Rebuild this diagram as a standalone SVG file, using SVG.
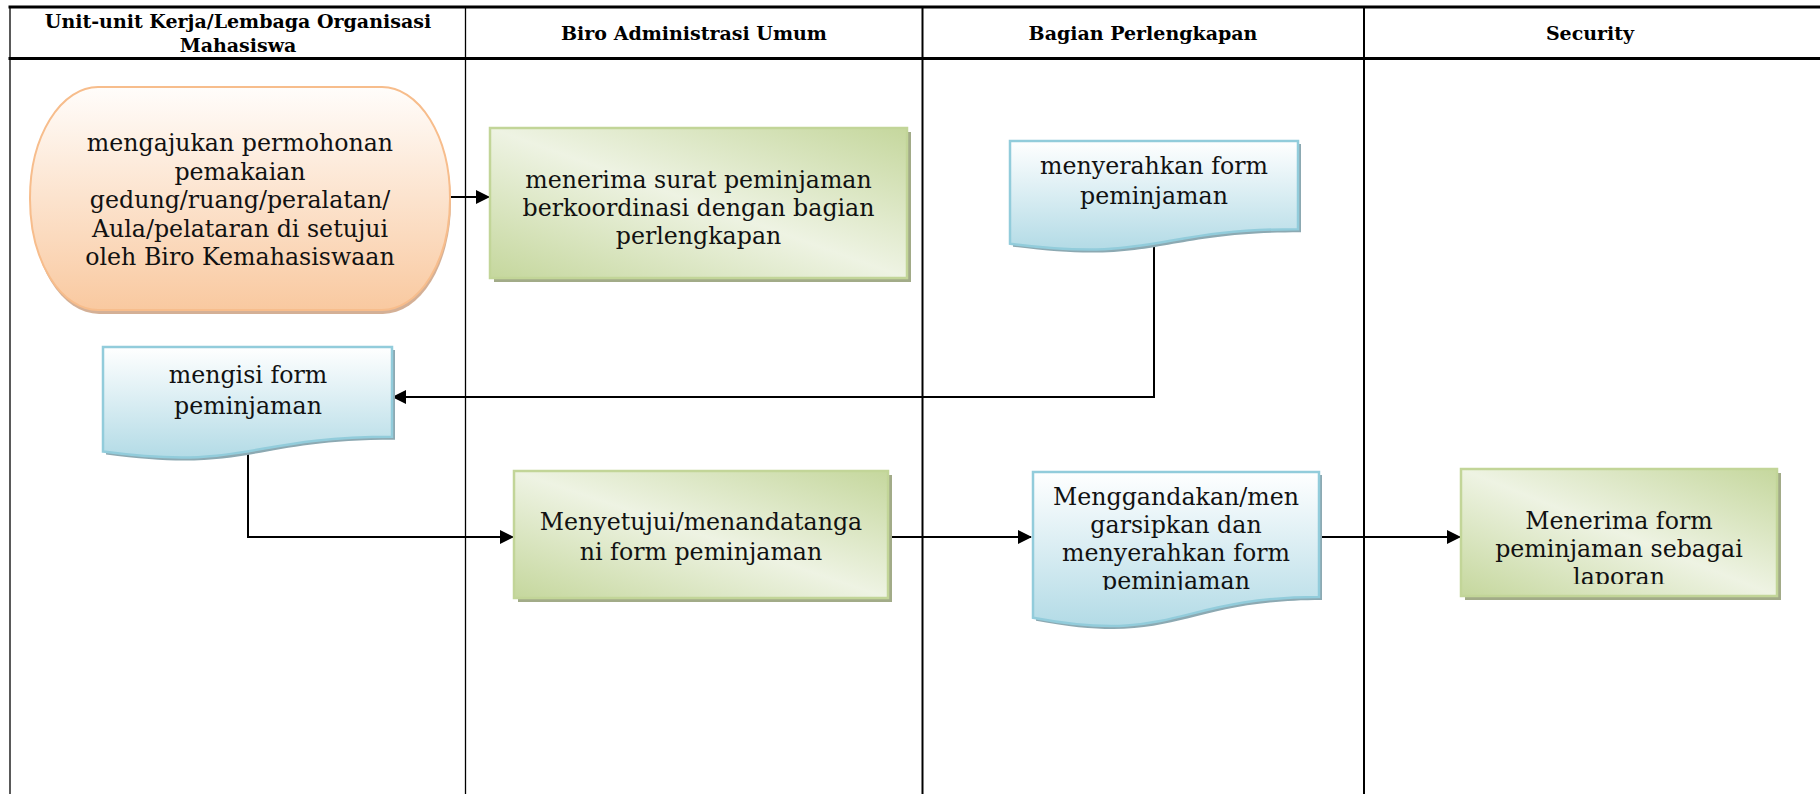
<svg xmlns="http://www.w3.org/2000/svg" width="1820" height="794" viewBox="0 0 1820 794">
  <defs>
    <linearGradient id="gOrange" x1="0" y1="0" x2="0" y2="1">
      <stop offset="0" stop-color="#fffdfb"/>
      <stop offset="1" stop-color="#f9c9a0"/>
    </linearGradient>
    <linearGradient id="gBlue" x1="0" y1="0" x2="0" y2="1">
      <stop offset="0" stop-color="#ffffff"/>
      <stop offset="1" stop-color="#b3dbe6"/>
    </linearGradient>
    <linearGradient id="gGreen" x1="0" y1="1" x2="1" y2="0">
      <stop offset="0" stop-color="#c5d79d"/>
      <stop offset="0.5" stop-color="#eef3e3"/>
      <stop offset="1" stop-color="#c5d79d"/>
    </linearGradient>
    <marker id="arrow" viewBox="0 0 14 14" refX="13" refY="7" markerWidth="14" markerHeight="14" markerUnits="userSpaceOnUse" orient="auto">
      <path d="M0,0 L14,7 L0,14 Z" fill="#000"/>
    </marker>
    <clipPath id="clipDoc6"><rect x="1033" y="472" width="286" height="118"/></clipPath>
    <clipPath id="clipBoxC"><rect x="1461" y="469" width="316" height="115"/></clipPath>
  </defs>
  <style>
    .hdr { font-family: "DejaVu Serif", "Liberation Serif", serif; font-weight: bold; font-size: 19px; fill: #000; text-anchor: middle; }
    .lbl { font-family: "DejaVu Serif", "Liberation Serif", serif; font-size: 23.7px; fill: #111; text-anchor: middle; }
    .thin { stroke: #000; stroke-width: 1.3; fill: none; }
    .thick { stroke: #000; stroke-width: 2; fill: none; }
    .rule { stroke: #000; stroke-width: 3; fill: none; }
    .conn { stroke: #000; stroke-width: 2; fill: none; marker-end: url(#arrow); }
    .term { fill: url(#gOrange); stroke: #f7bd8c; stroke-width: 2; }
    .termShadow { fill: #c99c7c; opacity: 0.8; }
    .proc { fill: url(#gGreen); stroke: #c2d598; stroke-width: 2.5; }
    .procShadow { fill: #a2ab88; }
    .doc { fill: url(#gBlue); stroke: #92ccdb; stroke-width: 2.5; }
    .docShadow { fill: #8ca9b2; }
  </style>

  <rect x="0" y="0" width="1820" height="794" fill="#ffffff"/>

  <!-- swimlane table -->
  <g id="lanes">
    <line class="rule" x1="8.5" y1="7" x2="1820" y2="7"/>
    <line class="rule" x1="8.5" y1="58.5" x2="1820" y2="58.5"/>
    <line class="thin" x1="10" y1="6" x2="10" y2="794"/>
    <line class="thin" x1="465.5" y1="6" x2="465.5" y2="794"/>
    <line class="thick" x1="922.5" y1="6" x2="922.5" y2="794"/>
    <line class="thick" x1="1364" y1="6" x2="1364" y2="794"/>
    <text class="hdr" x="238" y="28">Unit-unit Kerja/Lembaga Organisasi</text>
    <text class="hdr" x="238" y="52">Mahasiswa</text>
    <text class="hdr" x="694" y="40">Biro Administrasi Umum</text>
    <text class="hdr" x="1143" y="40">Bagian Perlengkapan</text>
    <text class="hdr" x="1590" y="40">Security</text>
  </g>

  <!-- connectors -->
  <g id="connectors">
    <path class="conn" d="M450,197 H489"/>
    <path class="conn" d="M1154,244 V397 H393"/>
    <path class="conn" d="M248,452 V537 H513"/>
    <path class="conn" d="M888,537 H1031"/>
    <path class="conn" d="M1320,537 H1460"/>
  </g>

  <!-- start: request submitted -->
  <g id="n-mengajukan">
    <rect class="termShadow" x="31" y="91" width="420" height="223" rx="68" ry="111"/>
    <rect class="term" x="30" y="87" width="420" height="223" rx="68" ry="111"/>
    <text class="lbl" x="240" y="151">mengajukan permohonan</text>
    <text class="lbl" x="240" y="179.5">pemakaian</text>
    <text class="lbl" x="240" y="208">gedung/ruang/peralatan/</text>
    <text class="lbl" x="240" y="236.5">Aula/pelataran di setujui</text>
    <text class="lbl" x="240" y="265">oleh Biro Kemahasiswaan</text>
  </g>

  <g id="n-menerima-surat">
    <rect class="procShadow" x="494" y="132" width="417" height="150"/>
    <rect class="proc" x="490" y="128" width="417" height="150"/>
    <text class="lbl" x="698.5" y="188">menerima surat peminjaman</text>
    <text class="lbl" x="698.5" y="216">berkoordinasi dengan bagian</text>
    <text class="lbl" x="698.5" y="244">perlengkapan</text>
  </g>

  <g id="n-menyerahkan-form">
    <path class="docShadow" transform="translate(3,3)" d="M1010,141 H1298 V229.2 C1154,229.2 1154,262.8 1010,243.7 Z"/>
    <path class="doc" d="M1010,141 H1298 V229.2 C1154,229.2 1154,262.8 1010,243.7 Z"/>
    <text class="lbl" x="1154" y="174">menyerahkan form</text>
    <text class="lbl" x="1154" y="204">peminjaman</text>
  </g>

  <g id="n-mengisi-form">
    <path class="docShadow" transform="translate(3,3)" d="M103,347 H392 V436.8 C247.5,436.8 247.5,471 103,451.6 Z"/>
    <path class="doc" d="M103,347 H392 V436.8 C247.5,436.8 247.5,471 103,451.6 Z"/>
    <text class="lbl" x="248" y="383">mengisi form</text>
    <text class="lbl" x="248" y="414">peminjaman</text>
  </g>

  <g id="n-menyetujui">
    <rect class="procShadow" x="518" y="475" width="374" height="127"/>
    <rect class="proc" x="514" y="471" width="374" height="127"/>
    <text class="lbl" x="701" y="530">Menyetujui/menandatanga</text>
    <text class="lbl" x="701" y="560">ni form peminjaman</text>
  </g>

  <g id="n-menggandakan">
    <path class="docShadow" transform="translate(3,3)" d="M1033,472 H1319 V597.1 C1176,597.1 1176,644.8 1033,617.7 Z"/>
    <path class="doc" d="M1033,472 H1319 V597.1 C1176,597.1 1176,644.8 1033,617.7 Z"/>
    <g clip-path="url(#clipDoc6)">
      <text class="lbl" x="1176" y="505">Menggandakan/men</text>
      <text class="lbl" x="1176" y="533">garsipkan dan</text>
      <text class="lbl" x="1176" y="561">menyerahkan form</text>
      <text class="lbl" x="1176" y="589">peminjaman</text>
    </g>
  </g>

  <g id="n-menerima-form">
    <rect class="procShadow" x="1465" y="473" width="316" height="127"/>
    <rect class="proc" x="1461" y="469" width="316" height="127"/>
    <g clip-path="url(#clipBoxC)">
      <text class="lbl" x="1619" y="529">Menerima form</text>
      <text class="lbl" x="1619" y="557">peminjaman sebagai</text>
      <text class="lbl" x="1619" y="585">laporan</text>
    </g>
  </g>
</svg>
